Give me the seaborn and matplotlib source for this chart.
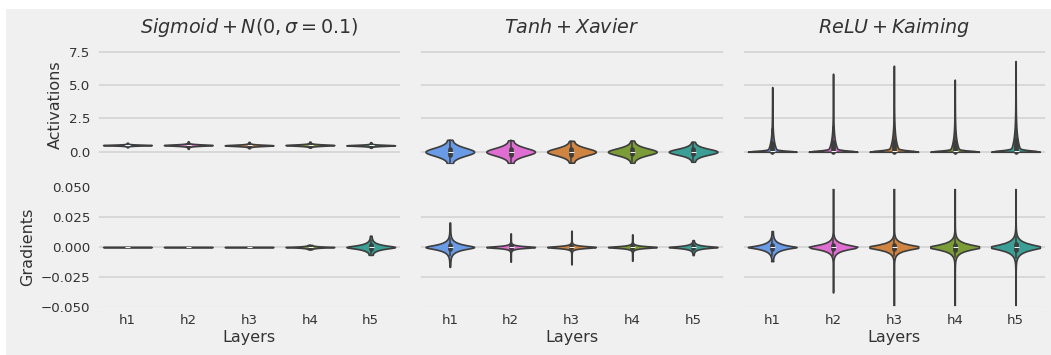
import numpy as np
import pandas as pd
import matplotlib
matplotlib.use("Agg")
import matplotlib.pyplot as plt
from matplotlib.patches import Rectangle
import seaborn as sns

# ---- chart data -----------------------------------------------------------
layers = ["h1", "h2", "h3", "h4", "h5"]
layer_colors = ["#6a9be6", "#e06ed2", "#cf8441", "#7b9c37", "#3b9f95"]
titles = [r"$Sigmoid + N(0, \sigma = 0.1)$", r"$Tanh + Xavier$", r"$ReLU + Kaiming$"]
row_labels = ["Activations", "Gradients"]

# activations: median, spread, min, max per layer
sig_act_mid = [0.50, 0.50, 0.48, 0.50, 0.48]
sig_act_spread = [0.02, 0.03, 0.03, 0.03, 0.025]
sig_act_lo = [0.33, 0.22, 0.26, 0.32, 0.30]
sig_act_hi = [0.68, 0.78, 0.74, 0.76, 0.72]

tanh_act_mid = [0.0, 0.0, 0.0, 0.0, 0.0]
tanh_act_spread = [0.20, 0.19, 0.18, 0.17, 0.15]
tanh_act_lo = [-0.88, -0.85, -0.82, -0.84, -0.75]
tanh_act_hi = [0.90, 0.86, 0.82, 0.84, 0.75]

relu_act_mid = [0.0, 0.0, 0.0, 0.0, 0.0]
relu_act_spread = [0.7, 0.75, 0.8, 0.75, 0.9]
relu_act_lo = [0.0, 0.0, 0.0, 0.0, 0.0]
relu_act_hi = [4.85, 5.85, 6.45, 5.40, 6.80]

# gradients: median, spread, min, max per layer
sig_grad_mid = [0.0, 0.0, 0.0, 0.0, 0.0]
sig_grad_spread = [0.00001, 0.00001, 0.00001, 0.0005, 0.0018]
sig_grad_lo = [-0.00005, -0.00005, -0.00005, -0.0018, -0.0065]
sig_grad_hi = [0.00005, 0.00005, 0.00005, 0.0018, 0.0095]

tanh_grad_mid = [0.0, 0.0, 0.0, 0.0, 0.0]
tanh_grad_spread = [0.0024, 0.0008, 0.0008, 0.0008, 0.0011]
tanh_grad_lo = [-0.0165, -0.0122, -0.0144, -0.0114, -0.0067]
tanh_grad_hi = [0.0205, 0.0114, 0.0136, 0.0106, 0.0058]

relu_grad_mid = [0.0, 0.0, 0.0, 0.0, 0.0]
relu_grad_spread = [0.0024, 0.0024, 0.0024, 0.0027, 0.0030]
relu_grad_lo = [-0.0117, -0.0378, -0.07, -0.07, -0.07]
relu_grad_hi = [0.0133, 0.07, 0.07, 0.07, 0.07]

# (mids, spreads, lows, highs, distribution kind, kde bandwidth adjustment)
panels = [
    [(sig_act_mid, sig_act_spread, sig_act_lo, sig_act_hi, "logistic", 1.0),
     (tanh_act_mid, tanh_act_spread, tanh_act_lo, tanh_act_hi, "logistic", 1.0),
     (relu_act_mid, relu_act_spread, relu_act_lo, relu_act_hi, "laplace", 0.35)],
    [(sig_grad_mid, sig_grad_spread, sig_grad_lo, sig_grad_hi, "laplace", 1.0),
     (tanh_grad_mid, tanh_grad_spread, tanh_grad_lo, tanh_grad_hi, "laplace", 0.8),
     (relu_grad_mid, relu_grad_spread, relu_grad_lo, relu_grad_hi, "laplace", 0.35)],
]
row_ylim = [(-1.0, 8.0), (-0.05, 0.05)]
row_ticks = [[0.0, 2.5, 5.0, 7.5], [-0.05, -0.025, 0.0, 0.025, 0.05]]


def layer_sample(mid, spread, lo, hi, kind, n=3000, n_tail=300):
    """Deterministic quantile sample of a layer's value distribution."""
    q = (np.arange(n) + 0.5) / n
    if kind == "laplace":
        z = np.where(q < 0.5, np.log(2 * q), -np.log(2 - 2 * q))
    else:
        z = np.log(q / (1 - q))
    core = np.clip(mid + spread * z, lo, hi)
    tail = np.linspace(lo, hi, n_tail)
    return np.concatenate([core, tail])


def panel_frame(mids, spreads, los, his, kind):
    frames = []
    for name, m, s, lo, hi in zip(layers, mids, spreads, los, his):
        vals = layer_sample(m, s, lo, hi, kind)
        frames.append(pd.DataFrame({"layer": name, "value": vals}))
    return pd.concat(frames, ignore_index=True)


# ---- style ----------------------------------------------------------------
bg = "#f0f0f0"
sns.set_theme(style="whitegrid", rc={
    "axes.facecolor": bg,
    "figure.facecolor": bg,
    "grid.color": "#d8d8d8",
    "grid.linewidth": 1.4,
    "axes.edgecolor": bg,
    "axes.linewidth": 2.0,
    "xtick.major.size": 0,
    "ytick.major.size": 0,
    "text.color": "#333333",
    "axes.labelcolor": "#333333",
    "xtick.color": "#333333",
    "ytick.color": "#333333",
})
plt.rcParams["font.family"] = ["DejaVu Sans"]
plt.rcParams["mathtext.fontset"] = "dejavusans"

fig, axes = plt.subplots(2, 3, figsize=(10.51, 3.55), dpi=100)
fig.subplots_adjust(left=0.0923, right=0.9952, bottom=0.135, top=0.873,
                    wspace=0.06, hspace=0.183)
# white page margin along the top and left edges
fig.patches.append(Rectangle((0, 1 - 9 / 355), 1, 9 / 355, transform=fig.transFigure,
                             facecolor="white", edgecolor="none", zorder=-5))
fig.patches.append(Rectangle((0, 0), 6 / 1051, 1, transform=fig.transFigure,
                             facecolor="white", edgecolor="none", zorder=-5))

for r in range(2):
    for c in range(3):
        ax = axes[r, c]
        mids, spreads, los, his, kind, bw = panels[r][c]
        df = panel_frame(mids, spreads, los, his, kind)
        sns.violinplot(data=df, x="layer", y="value", hue="layer", order=layers,
                       hue_order=layers, palette=layer_colors, saturation=1,
                       cut=0, density_norm="width", inner="box", width=0.8,
                       bw_adjust=bw, linewidth=1.2, linecolor="#3d3d3d",
                       inner_kws=dict(box_width=3.4, whis_width=1.1, markersize=3.6),
                       legend=False, ax=ax)
        ax.set_ylim(*row_ylim[r])
        ax.set_yticks(row_ticks[r])
        ax.set_xlim(-0.5, 4.5)
        ax.grid(axis="x", visible=False)
        ax.grid(axis="y", visible=True)
        ax.set_axisbelow(True)
        ax.tick_params(axis="both", labelsize=9.6, pad=5)
        if c == 0:
            ax.set_ylabel(row_labels[r], fontsize=11.5)
        else:
            ax.set_ylabel("")
            ax.tick_params(axis="y", labelleft=False)
        if r == 0:
            ax.set_xlabel("")
            ax.tick_params(axis="x", labelbottom=False)
            ax.set_title(titles[c], fontsize=13.8, pad=9)
        else:
            ax.set_xlabel("Layers", fontsize=11.5, labelpad=2)

fig.savefig("out.png", dpi=100, facecolor=bg)
